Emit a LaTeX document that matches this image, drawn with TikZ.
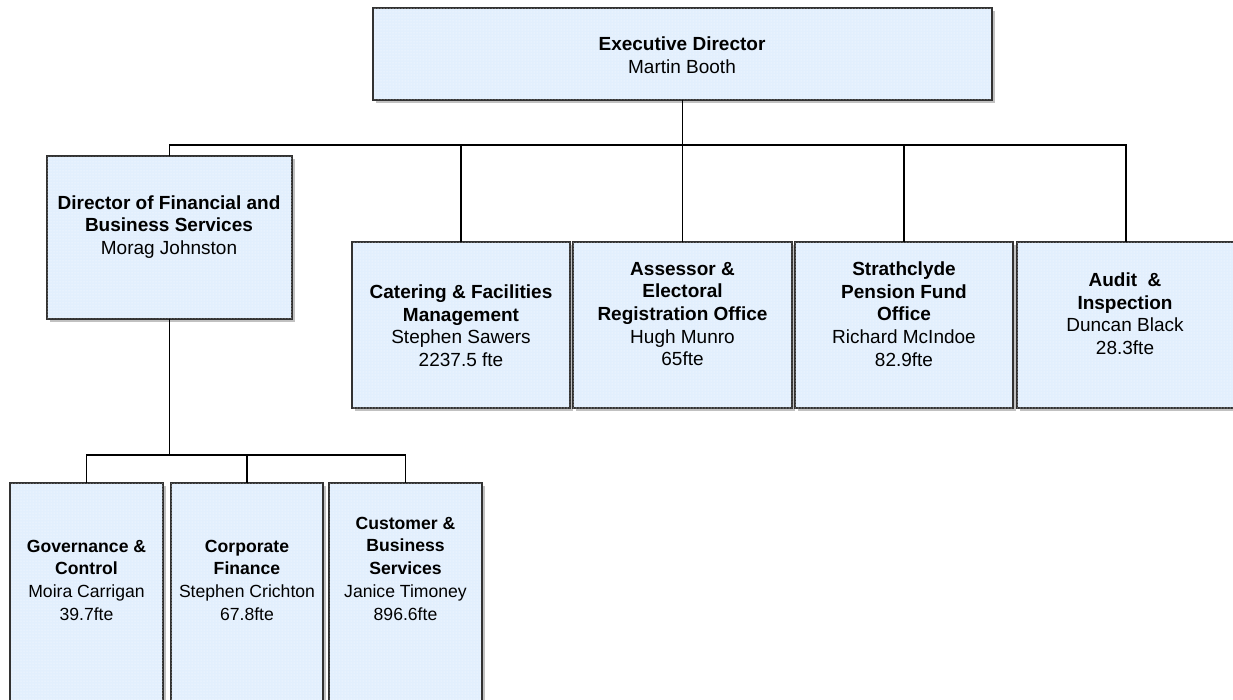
\documentclass[tikz,border=0pt]{standalone}
\usepackage{fontspec}
\setmainfont{Liberation Sans}
\usetikzlibrary{shadows,patterns}
\definecolor{boxfill}{RGB}{226,239,253}
\definecolor{boxline}{RGB}{50,50,50}
\begin{document}
\begin{tikzpicture}[x=1pt,y=-1pt,
  orgbox/.style={rectangle, draw=boxline, line width=1.1pt, inner sep=0pt, outer sep=0pt,
    fill=boxfill,
    drop shadow={shadow xshift=3pt, shadow yshift=-3pt, opacity=0.35, fill=black!70},
    postaction={pattern=dots, pattern color=white}},
  txt/.style={align=center, inner sep=0pt, text depth=0pt, font=\fontsize{19}{22.7}\selectfont},
  txtsmall/.style={align=center, inner sep=0pt, text depth=0pt, font=\fontsize{17.6}{22.7}\selectfont},
  conn/.style={draw=black, line width=1.3pt}
]
\useasboundingbox (0,0) rectangle (1233,699);
\clip (0,0) rectangle (1233,699);

% boxes
\node[orgbox, minimum width=619pt, minimum height=92pt] (exec) at (682.5,54) {};
\node[orgbox, minimum width=245pt, minimum height=163pt] (dir) at (169.5,237.5) {};
\node[orgbox, minimum width=218pt, minimum height=166pt] (cat) at (461,325) {};
\node[orgbox, minimum width=219pt, minimum height=166pt] (ass) at (682.5,325) {};
\node[orgbox, minimum width=218pt, minimum height=166pt] (str) at (904,325) {};
\node[orgbox, minimum width=218pt, minimum height=166pt] (aud) at (1126,325) {};
\node[orgbox, minimum width=153pt, minimum height=247pt] (gov) at (86.5,606.5) {};
\node[orgbox, minimum width=152pt, minimum height=247pt] (corp) at (247,606.5) {};
\node[orgbox, minimum width=153pt, minimum height=247pt] (cust) at (405.5,606.5) {};

% connectors
\coordinate (bus) at (682.5,145);
\coordinate (bus2) at (169.5,455);
\draw[conn] (exec.south) -- (bus);
\draw[conn] (dir.north) |- (bus) -| (aud.north);
\draw[conn] (cat.north) -- (cat.north |- bus);
\draw[conn] (ass.north) -- (ass.north |- bus);
\draw[conn] (str.north) -- (str.north |- bus);
\draw[conn] (dir.south) -- (bus2);
\draw[conn] (gov.north) |- (bus2) -| (cust.north);
\draw[conn] (corp.north) -- (corp.north |- bus2);

% texts
\node[txt] (execT) at (682,55) {\textbf{Executive Director}\\Martin Booth};
\node[txt] (dirT) at (169,225) {\textbf{Director of Financial and}\\\textbf{Business Services}\\Morag Johnston};
\node[txt] (catT) at (461,325.5) {\textbf{Catering \& Facilities}\\\textbf{Management}\\Stephen Sawers\\2237.5 fte};
\node[txt] (assT) at (682.5,314) {\textbf{Assessor \&}\\\textbf{Electoral}\\\textbf{Registration Office}\\Hugh Munro\\65fte};
\node[txt] (strT) at (904,314) {\textbf{Strathclyde}\\\textbf{Pension Fund}\\\textbf{Office}\\Richard McIndoe\\82.9fte};
\node[txt] (audT) at (1125,313.5) {\textbf{Audit\ \ \&}\\\textbf{Inspection}\\Duncan Black\\28.3fte};
\node[txtsmall] (govT) at (86.5,580) {\textbf{Governance \&}\\\textbf{Control}\\Moira Carrigan\\39.7fte};
\node[txtsmall] (corpT) at (247,580) {\textbf{Corporate}\\\textbf{Finance}\\Stephen Crichton\\67.8fte};
\node[txtsmall] (custT) at (405.5,568.5) {\textbf{Customer \&}\\\textbf{Business}\\\textbf{Services}\\Janice Timoney\\896.6fte};
\end{tikzpicture}
\end{document}
